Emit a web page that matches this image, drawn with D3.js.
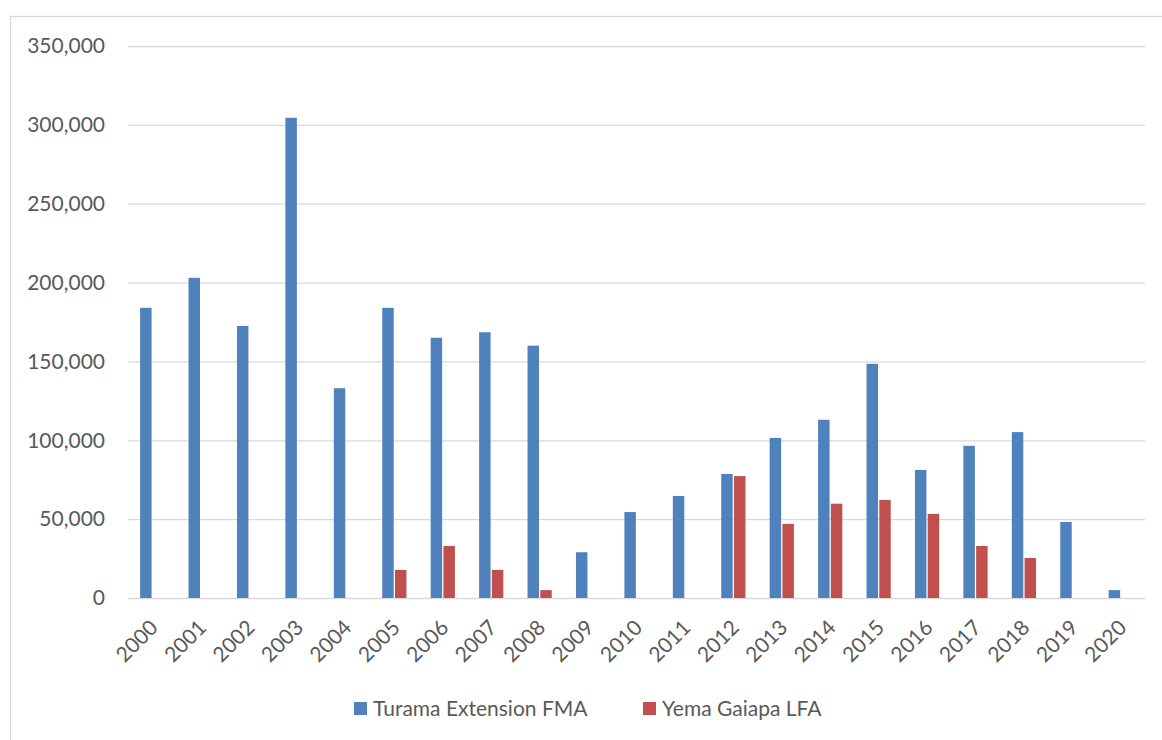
<!DOCTYPE html>
<html>
<head>
<meta charset="utf-8">
<script src="https://cdn.jsdelivr.net/npm/d3@7"></script>
<style>
  html, body { margin: 0; padding: 0; background: #fff; }
  svg { display: block; }
  text { font-family: Lato, "Open Sans", sans-serif; fill: #595959; }
</style>
</head>
<body>
<svg id="chart" width="1162" height="740"></svg>
<script>
// Annual figures per forest area, 2000–2020
const years = ["2000","2001","2002","2003","2004","2005","2006","2007","2008","2009","2010",
               "2011","2012","2013","2014","2015","2016","2017","2018","2019","2020"];
const turama = [184000, 203000, 172500, 304500, 133000, 184000, 165000, 168500, 160000, 29000, 54500,
                64700, 78600, 101500, 113000, 148500, 81200, 96500, 105200, 48200, 5000];
const yema = [0, 0, 0, 0, 0, 17800, 33000, 17800, 5000, 0, 0,
              0, 77300, 47000, 59800, 62200, 53300, 33000, 25400, 0, 0];
const seriesNames = ["Turama Extension FMA", "Yema Gaiapa LFA"];
const seriesColors = ["#4f81bd", "#c0504d"];
const yTicks = [0, 50000, 100000, 150000, 200000, 250000, 300000, 350000];

const svg = d3.select("#chart");
const plot = { left: 128, right: 1145, top: 46, bottom: 598 };
const fontSize = 21;

// Outer chart-area frame
svg.append("rect")
  .attr("x", 10.5).attr("y", 16.5)
  .attr("width", 1170).attr("height", 740)
  .attr("fill", "none").attr("stroke", "#d9d9d9").attr("stroke-width", 1.3);

const x = d3.scaleBand().domain(years).range([plot.left, plot.right]).padding(0);
const y = d3.scaleLinear().domain([0, 350000]).range([plot.bottom, plot.top]);
const inner = d3.scaleBand().domain(seriesNames)
  .range([0, x.bandwidth() * 0.5]).paddingInner(0.1).paddingOuter(0);

// Horizontal gridlines + y labels
const yAxis = d3.axisLeft(y).tickValues(yTicks).tickSize(0).tickPadding(0)
  .tickFormat(d3.format(","));
const gy = svg.append("g").attr("transform", `translate(${plot.left},0)`).call(yAxis);
gy.select(".domain").remove();
gy.selectAll(".tick line")
  .attr("x2", plot.right - plot.left)
  .attr("stroke", "#d9d9d9").attr("stroke-width", 1.3);
gy.selectAll(".tick text")
  .attr("x", -23)
  .attr("font-size", fontSize)
  .attr("fill", "#595959")
  .style("font-family", "Lato, 'Open Sans', sans-serif");

// Bars
const rows = years.map((yr, i) => ({ year: yr, values: [turama[i], yema[i]] }));
const groups = svg.append("g").selectAll("g").data(rows).join("g")
  .attr("transform", d => `translate(${x(d.year) + x.bandwidth() * 0.25},0)`);
groups.selectAll("rect")
  .data(d => d.values.map((v, k) => ({ name: seriesNames[k], value: v, k })))
  .join("rect")
  .filter(d => d.value > 0)
  .attr("x", d => inner(d.name))
  .attr("width", inner.bandwidth())
  .attr("y", d => y(d.value))
  .attr("height", d => y(0) - y(d.value))
  .attr("fill", d => seriesColors[d.k]);

// Category axis with rotated year labels
const xAxis = d3.axisBottom(x).tickSize(0).tickPadding(0);
const gx = svg.append("g").attr("transform", `translate(0,${plot.bottom})`).call(xAxis);
gx.select(".domain").remove();
gx.selectAll(".tick text")
  .attr("font-size", fontSize)
  .attr("fill", "#595959")
  .style("font-family", "Lato, 'Open Sans', sans-serif")
  .attr("text-anchor", "end")
  .attr("dy", null)
  .attr("y", 0)
  .attr("transform", "translate(7,31) rotate(-45)");

// Legend
const legendItems = [{ x: 354, tx: 373 }, { x: 643, tx: 662 }];
const legend = svg.append("g");
seriesNames.forEach((name, k) => {
  legend.append("rect")
    .attr("x", legendItems[k].x).attr("y", 702)
    .attr("width", 13).attr("height", 13)
    .attr("fill", seriesColors[k]);
  legend.append("text")
    .attr("x", legendItems[k].tx).attr("y", 716)
    .attr("font-size", fontSize)
    .text(name);
});
</script>
</body>
</html>
